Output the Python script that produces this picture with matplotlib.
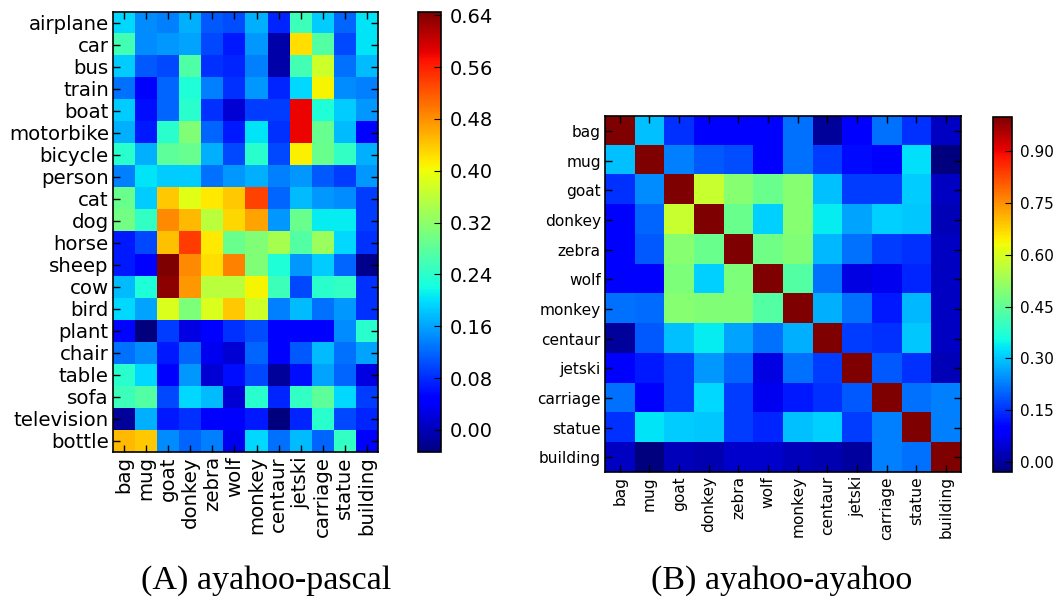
import matplotlib
matplotlib.use("Agg")
import matplotlib.pyplot as plt
import numpy as np

ayahoo = ["bag", "mug", "goat", "donkey", "zebra", "wolf", "monkey",
          "centaur", "jetski", "carriage", "statue", "building"]
pascal = ["airplane", "car", "bus", "train", "boat", "motorbike", "bicycle",
          "person", "cat", "dog", "horse", "sheep", "cow", "bird", "plant",
          "chair", "table", "sofa", "television", "bottle"]

# ayahoo (columns) vs pascal (rows) similarity
sim_pascal = np.array([
    [0.195, 0.144, 0.136, 0.170, 0.110, 0.102, 0.170, 0.076, 0.255, 0.187, 0.119, 0.204],
    [0.260, 0.144, 0.153, 0.160, 0.100, 0.068, 0.153, -0.008, 0.424, 0.272, 0.100, 0.204],
    [0.187, 0.110, 0.100, 0.270, 0.085, 0.076, 0.136, -0.010, 0.260, 0.373, 0.127, 0.178],
    [0.127, 0.045, 0.119, 0.230, 0.136, 0.085, 0.153, 0.076, 0.195, 0.407, 0.144, 0.136],
    [0.187, 0.060, 0.119, 0.238, 0.085, 0.017, 0.093, 0.093, 0.580, 0.230, 0.187, 0.153],
    [0.170, 0.068, 0.238, 0.310, 0.119, 0.068, 0.204, 0.085, 0.580, 0.289, 0.178, 0.045],
    [0.238, 0.170, 0.280, 0.289, 0.170, 0.100, 0.238, 0.100, 0.410, 0.290, 0.246, 0.170],
    [0.136, 0.204, 0.187, 0.187, 0.127, 0.153, 0.170, 0.136, 0.153, 0.110, 0.093, 0.153],
    [0.290, 0.187, 0.440, 0.390, 0.416, 0.440, 0.535, 0.119, 0.178, 0.153, 0.144, 0.093],
    [0.300, 0.246, 0.485, 0.450, 0.356, 0.430, 0.467, 0.153, 0.290, 0.210, 0.210, 0.093],
    [0.068, 0.100, 0.445, 0.540, 0.416, 0.290, 0.310, 0.340, 0.272, 0.330, 0.195, 0.085],
    [0.068, 0.051, 0.645, 0.485, 0.424, 0.490, 0.310, 0.230, 0.153, 0.187, 0.119, -0.026],
    [0.178, 0.230, 0.635, 0.475, 0.356, 0.356, 0.407, 0.255, 0.100, 0.238, 0.246, 0.085],
    [0.195, 0.160, 0.385, 0.306, 0.385, 0.440, 0.373, 0.136, 0.178, 0.127, 0.153, 0.085],
    [0.055, -0.034, 0.093, 0.026, 0.051, 0.085, 0.102, 0.045, 0.045, 0.045, 0.144, 0.238],
    [0.127, 0.144, 0.068, 0.119, 0.034, 0.017, 0.119, 0.045, 0.110, 0.178, 0.127, 0.160],
    [0.238, 0.195, 0.045, 0.153, 0.017, 0.060, 0.100, -0.017, 0.060, 0.160, 0.119, 0.026],
    [0.255, 0.272, 0.100, 0.195, 0.178, 0.017, 0.238, 0.076, 0.246, 0.280, 0.195, 0.093],
    [-0.017, 0.170, 0.068, 0.085, 0.051, 0.045, 0.068, -0.034, 0.076, 0.238, 0.100, 0.076],
    [0.450, 0.440, 0.144, 0.119, 0.136, 0.034, 0.195, 0.127, 0.178, 0.119, 0.246, 0.045],
])

# ayahoo vs ayahoo similarity
sim_ayahoo = np.array([
    [1.000, 0.292, 0.150, 0.099, 0.099, 0.099, 0.215, -0.004, 0.090, 0.215, 0.150, 0.034],
    [0.292, 1.000, 0.228, 0.190, 0.176, 0.099, 0.215, 0.163, 0.110, 0.086, 0.325, -0.030],
    [0.150, 0.240, 1.000, 0.580, 0.498, 0.464, 0.498, 0.292, 0.163, 0.163, 0.305, 0.034],
    [0.099, 0.202, 0.580, 1.000, 0.464, 0.310, 0.498, 0.340, 0.266, 0.310, 0.300, 0.020],
    [0.099, 0.190, 0.498, 0.464, 1.000, 0.470, 0.490, 0.285, 0.215, 0.163, 0.150, 0.034],
    [0.099, 0.099, 0.485, 0.310, 0.485, 1.000, 0.433, 0.215, 0.060, 0.073, 0.138, 0.034],
    [0.215, 0.210, 0.498, 0.490, 0.490, 0.433, 1.000, 0.279, 0.215, 0.125, 0.285, 0.034],
    [-0.004, 0.190, 0.292, 0.340, 0.266, 0.215, 0.279, 1.000, 0.163, 0.150, 0.300, 0.034],
    [0.099, 0.125, 0.163, 0.253, 0.202, 0.060, 0.215, 0.163, 1.000, 0.190, 0.150, 0.020],
    [0.215, 0.099, 0.163, 0.320, 0.163, 0.073, 0.125, 0.150, 0.190, 1.000, 0.215, 0.228],
    [0.150, 0.330, 0.305, 0.300, 0.163, 0.138, 0.292, 0.310, 0.163, 0.228, 1.000, 0.228],
    [0.034, -0.030, 0.025, 0.016, 0.040, 0.040, 0.025, 0.016, 0.000, 0.228, 0.215, 1.000],
])

cbar_ticks_a = [0.00, 0.08, 0.16, 0.24, 0.32, 0.40, 0.48, 0.56, 0.64]
cbar_ticks_b = [0.00, 0.15, 0.30, 0.45, 0.60, 0.75, 0.90]

fig = plt.figure(figsize=(10.56, 6.02), dpi=100)


def heatmap(rect, crect, data, rows, cols, fs, cfs, cticks):
    ax = fig.add_axes(rect)
    im = ax.imshow(data, cmap="jet", interpolation="nearest", aspect="auto")
    ax.set_xticks(range(len(cols)))
    ax.set_xticklabels(cols, rotation=90, fontsize=fs)
    ax.set_yticks(range(len(rows)))
    ax.set_yticklabels(rows, fontsize=fs)
    ax.tick_params(direction="in", top=True, right=True, length=5, width=1, pad=3)
    for s in ax.spines.values():
        s.set_linewidth(1.2)
    cax = fig.add_axes(crect)
    cb = fig.colorbar(im, cax=cax, ticks=cticks, format="%.2f")
    cb.ax.tick_params(direction="in", length=5, labelsize=cfs, pad=6)
    cb.outline.set_linewidth(1.2)
    return ax


heatmap([0.1070, 0.2492, 0.2509, 0.7309], [0.3958, 0.2492, 0.0218, 0.7309],
        sim_pascal, pascal, ayahoo, 14.2, 14, cbar_ticks_a)
heatmap([0.5729, 0.2159, 0.3371, 0.5914], [0.9403, 0.2159, 0.0180, 0.5897],
        sim_ayahoo, ayahoo, ayahoo, 11.1, 11, cbar_ticks_b)

fig.text(0.252, 0.036, "(A) ayahoo-pascal", ha="center", va="center",
         fontsize=24.5, family="Liberation Serif")
fig.text(0.740, 0.036, "(B) ayahoo-ayahoo", ha="center", va="center",
         fontsize=24.5, family="Liberation Serif")

fig.savefig("out.png", dpi=100)
